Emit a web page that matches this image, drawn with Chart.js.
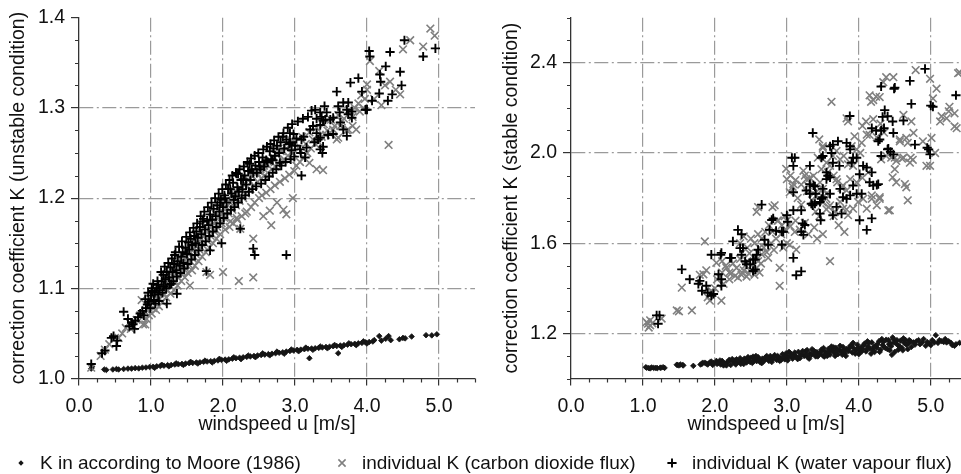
<!DOCTYPE html>
<html>
<head>
<meta charset="utf-8">
<script src="https://cdn.jsdelivr.net/npm/chart.js@4/dist/chart.umd.min.js"></script>
<style>
  html, body { margin: 0; padding: 0; background: #fff; }
  body { width: 961px; height: 474px; position: relative; overflow: hidden;
         font-family: 'Liberation Sans', Arial, sans-serif; color: #111; }
  #left { position: absolute; left: 0; top: 0; }
  #right { position: absolute; left: 480px; top: 0; }
  #legendMarks { position: absolute; left: 0; top: 440px; }
  .lg { position: absolute; top: 452px; font-size: 19px; line-height: 22px; white-space: nowrap; }
</style>
</head>
<body>
<canvas id="left" width="480" height="440"></canvas>
<canvas id="right" width="481" height="440"></canvas>
<canvas id="legendMarks" width="961" height="34"></canvas>
<div class="lg" style="left:40px">K in according to Moore (1986)</div>
<div class="lg" style="left:362px">individual K (carbon dioxide flux)</div>
<div class="lg" style="left:692px">individual K (water vapour flux)</div>
<script>
// tick labels
const xTicks = [0, 1, 2, 3, 4, 5];
const leftYTicks = [1.0, 1.1, 1.2, 1.3, 1.4];
const rightYTicks = [1.2, 1.6, 2.0, 2.4];

// left panel (unstable) : [windspeed, K]
const leftMoore = [
  [0.17,1.011],[0.18,1.013],[0.35,1.010],[0.38,1.0095],[0.47,1.010],[0.52,1.0105],[0.55,1.010],[0.62,1.0105],
  [0.68,1.011],[0.73,1.011],[0.78,1.0115],[0.83,1.0112],[0.88,1.012],[0.93,1.0122],[0.98,1.0128],[1.03,1.013],
  [1.08,1.0135],[1.13,1.0138],[1.18,1.0142],[1.23,1.0148],[1.28,1.015],[1.33,1.0155],[1.38,1.0158],[1.43,1.0162],
  [1.48,1.0165],[1.53,1.017],[1.58,1.0172],[1.63,1.0178],[1.68,1.018],[1.73,1.0185],[1.78,1.0188],[1.83,1.0192],
  [1.88,1.0195],[1.93,1.020],[1.98,1.0205],[2.03,1.021],[2.08,1.0212],[2.13,1.022],[2.18,1.0225],[2.23,1.023],
  [2.28,1.0235],[2.33,1.024],[2.38,1.0245],[2.43,1.025],[2.48,1.0255],[2.53,1.026],[2.58,1.0265],[2.63,1.027],
  [2.68,1.0275],[2.73,1.028],[2.78,1.0285],[2.83,1.029],[2.88,1.0298],[2.93,1.0305],[2.98,1.031],[3.03,1.0318],
  [3.08,1.032],[3.13,1.0325],[3.18,1.033],[3.2,1.0225],[3.23,1.0332],[3.28,1.0335],[3.33,1.034],[3.38,1.0345],
  [3.43,1.035],[3.48,1.0352],[3.53,1.0358],[3.58,1.036],[3.6,1.028],[3.63,1.0365],[3.68,1.037],[3.73,1.0375],
  [3.78,1.038],[3.83,1.0385],[3.88,1.039],[3.93,1.0395],[3.98,1.040],[4.03,1.0405],[4.08,1.041],[4.17,1.047],
  [4.2,1.042],[4.26,1.044],[4.3,1.047],[4.33,1.0425],[4.45,1.0435],[4.5,1.045],[4.53,1.0445],[4.62,1.0465],
  [4.82,1.048],[4.9,1.0478],[4.97,1.049],
  [1.05,1.0118],[1.25,1.0135],[1.45,1.015],[1.65,1.0166],[1.85,1.0178],[2.05,1.0196],[2.25,1.0215],[2.45,1.0236],
  [2.65,1.0257],[2.85,1.0275],[3.05,1.0302],[3.25,1.0318],[3.45,1.0335],[3.65,1.035],[3.85,1.037],[4.0,1.0388],
  [1.15,1.0152],[1.35,1.0168],[1.55,1.0185],[1.75,1.0198],[1.95,1.0218],[2.15,1.0235],[2.35,1.0255],[2.55,1.0278],
  [2.75,1.0298],[2.95,1.0322],[3.15,1.0342],[3.35,1.0355],[3.55,1.0372],[3.75,1.039],[3.95,1.0412],[4.1,1.0425]
];
const leftCO2 = [
  [0.17,1.012],[0.3,1.025],[0.36,1.032],[0.42,1.038],[0.5,1.045],[0.55,1.045],[0.6,1.05],[0.65,1.056],[0.7,1.062],
  [0.72,1.055],[0.76,1.058],[0.8,1.065],[0.85,1.07],[0.87,1.087],[0.88,1.068],[0.89,1.06],[0.92,1.06],[0.95,1.075],
  [0.98,1.08],[1.0,1.085],[1.03,1.078],[1.06,1.09],[1.08,1.082],[1.1,1.095],[1.12,1.088],[1.15,1.1],[1.18,1.094],
  [1.2,1.105],[1.23,1.098],[1.25,1.11],[1.28,1.102],[1.3,1.115],[1.33,1.108],[1.35,1.12],[1.38,1.112],[1.4,1.125],
  [1.43,1.118],[1.45,1.13],[1.48,1.122],[1.5,1.135],[1.52,1.127],[1.54,1.103],[1.55,1.14],[1.58,1.133],[1.6,1.145],
  [1.62,1.138],[1.65,1.15],[1.67,1.143],[1.7,1.155],[1.72,1.148],[1.75,1.16],[1.77,1.118],[1.78,1.153],[1.8,1.165],
  [1.82,1.115],[1.83,1.158],[1.85,1.17],[1.88,1.163],[1.9,1.175],[1.92,1.168],[1.95,1.18],[1.98,1.172],[1.98,1.202],
  [2.0,1.118],[2.0,1.185],[2.0,1.18],[2.02,1.178],[2.05,1.19],[2.08,1.183],[2.1,1.195],[2.1,1.174],[2.13,1.187],
  [2.15,1.2],[2.18,1.192],[2.19,1.178],[2.2,1.205],[2.22,1.108],[2.23,1.197],[2.24,1.166],[2.25,1.21],[2.28,1.2],
  [2.3,1.215],[2.31,1.183],[2.32,1.205],[2.35,1.22],[2.38,1.21],[2.4,1.225],[2.42,1.112],[2.42,1.155],[2.43,1.214],
  [2.45,1.228],[2.48,1.218],[2.5,1.23],[2.53,1.222],[2.55,1.235],[2.56,1.18],[2.58,1.225],[2.6,1.238],[2.62,1.228],
  [2.65,1.186],[2.65,1.242],[2.67,1.17],[2.68,1.232],[2.7,1.245],[2.73,1.235],[2.75,1.195],[2.75,1.25],[2.78,1.24],
  [2.8,1.252],[2.84,1.187],[2.85,1.243],[2.88,1.182],[2.88,1.255],[2.9,1.247],[2.93,1.258],[2.97,1.2],[2.97,1.25],
  [3.0,1.262],[3.05,1.255],[3.1,1.268],[3.15,1.26],[3.2,1.273],[3.2,1.239],[3.25,1.265],[3.3,1.232],[3.3,1.278],
  [3.35,1.27],[3.39,1.231],[3.4,1.282],[3.45,1.275],[3.5,1.287],[3.55,1.28],[3.58,1.265],[3.6,1.267],[3.6,1.292],
  [3.65,1.285],[3.72,1.275],[3.74,1.276],[3.75,1.298],[3.8,1.28],[3.8,1.29],[3.85,1.276],[3.88,1.305],[3.92,1.314],
  [3.95,1.3],[4.0,1.326],[4.0,1.32],[4.04,1.352],[4.1,1.31],[4.17,1.341],[4.2,1.303],[4.25,1.325],[4.3,1.259],
  [4.32,1.329],[4.4,1.32],[4.46,1.315],[4.5,1.365],[4.6,1.375],[4.78,1.368],[4.88,1.388],[4.94,1.38],
  [0.94,1.066],[0.97,1.07],[1.01,1.072],[1.04,1.092],[1.07,1.076],[1.09,1.1],[1.11,1.08],[1.14,1.105],[1.16,1.085],
  [1.19,1.112],[1.21,1.09],[1.24,1.118],[1.27,1.094],[1.29,1.123],[1.32,1.098],[1.34,1.128],[1.37,1.103],[1.39,1.133],
  [1.42,1.108],[1.44,1.138],[1.47,1.112],[1.49,1.143],[1.51,1.117],[1.53,1.148],[1.57,1.12],[1.59,1.153],[1.61,1.125],
  [1.64,1.158],[1.66,1.13],[1.69,1.163],[1.71,1.135],[1.74,1.168],[1.76,1.14],[1.79,1.172],[1.81,1.145],[1.84,1.178],
  [1.86,1.15],[1.89,1.183],[1.91,1.155],[1.94,1.188],[1.96,1.16],[1.99,1.193],[2.03,1.165],[2.06,1.198],[2.09,1.168],
  [2.12,1.203],[2.14,1.172],[2.17,1.208],[2.2,1.176],[2.23,1.212],[2.26,1.18],[2.29,1.216],[2.33,1.185],[2.36,1.22],
  [2.39,1.19],[2.41,1.224],[2.44,1.195],[2.47,1.228],[2.5,1.2],[2.52,1.232],[2.54,1.203],[2.57,1.236],[2.6,1.206],
  [2.63,1.24],[2.66,1.21],[2.69,1.244],[2.72,1.214],[2.76,1.248],[2.79,1.218],[2.82,1.252],[2.86,1.222],[2.89,1.26],
  [2.92,1.226],[2.95,1.264],[2.99,1.23],[3.02,1.236],[3.07,1.24],[3.12,1.245],[3.17,1.25],[3.22,1.255],[3.28,1.26],
  [3.33,1.262],[3.37,1.268],[3.43,1.27],[3.48,1.272],[3.53,1.276],[3.63,1.28],[3.68,1.288],[3.78,1.296],[3.83,1.3],
  [3.9,1.296],[3.97,1.31]
];
const leftWater = [
  [0.17,1.016],[0.32,1.028],[0.36,1.031],[0.45,1.045],[0.48,1.047],[0.52,1.036],[0.53,1.042],[0.62,1.074],
  [0.68,1.066],[0.7,1.058],[0.73,1.062],[0.75,1.06],[0.77,1.055],[0.78,1.064],[0.82,1.068],[0.85,1.072],
  [0.88,1.075],[0.9,1.07],[0.93,1.078],[0.95,1.082],[0.97,1.085],[1.01,1.1],[1.0,1.092],[1.02,1.097],[1.04,1.087],
  [1.05,1.095],[1.08,1.1],[1.1,1.093],[1.1,1.104],[1.12,1.098],[1.15,1.108],[1.17,1.115],[1.18,1.102],[1.2,1.11],
  [1.22,1.083],[1.22,1.118],[1.25,1.112],[1.27,1.123],[1.28,1.105],[1.3,1.118],[1.32,1.127],[1.33,1.137],[1.35,1.12],
  [1.36,1.094],[1.37,1.13],[1.4,1.125],[1.42,1.135],[1.44,1.14],[1.45,1.128],[1.48,1.145],[1.5,1.138],[1.52,1.151],
  [1.53,1.143],[1.55,1.155],[1.57,1.148],[1.6,1.158],[1.62,1.15],[1.63,1.163],[1.65,1.156],[1.68,1.168],[1.7,1.16],
  [1.72,1.174],[1.73,1.177],[1.75,1.165],[1.77,1.119],[1.78,1.175],[1.8,1.17],[1.82,1.142],[1.82,1.182],[1.85,1.176],
  [1.87,1.188],[1.9,1.18],[1.92,1.192],[1.95,1.185],[1.96,1.195],[1.97,1.198],[1.98,1.15],[2.0,1.19],[2.02,1.203],
  [2.03,1.2],[2.05,1.195],[2.07,1.21],[2.1,1.21],[2.12,1.205],[2.14,1.217],[2.15,1.198],[2.17,1.202],[2.19,1.227],
  [2.2,1.212],[2.21,1.227],[2.22,1.207],[2.24,1.166],[2.25,1.22],[2.27,1.21],[2.28,1.221],[2.3,1.225],[2.32,1.215],
  [2.35,1.23],[2.37,1.238],[2.38,1.22],[2.4,1.232],[2.42,1.144],[2.42,1.228],[2.44,1.137],[2.45,1.236],[2.47,1.228],
  [2.5,1.24],[2.51,1.235],[2.52,1.232],[2.55,1.245],[2.57,1.235],[2.6,1.242],[2.62,1.24],[2.65,1.252],[2.67,1.243],
  [2.69,1.242],[2.7,1.255],[2.72,1.247],[2.75,1.258],[2.78,1.25],[2.79,1.239],[2.8,1.262],[2.83,1.268],[2.85,1.255],
  [2.88,1.137],[2.88,1.265],[2.92,1.26],[2.93,1.272],[2.93,1.262],[2.95,1.253],[2.98,1.271],[3.0,1.258],[3.02,1.266],
  [3.07,1.254],[3.09,1.265],[3.09,1.225],[3.12,1.268],[3.14,1.245],[3.21,1.276],[3.23,1.297],[3.25,1.28],[3.3,1.272],
  [3.3,1.288],[3.35,1.295],[3.35,1.267],[3.35,1.254],[3.35,1.281],[3.37,1.29],[3.38,1.25],[3.39,1.257],[3.39,1.286],
  [3.42,1.287],[3.44,1.295],[3.49,1.287],[3.53,1.271],[3.53,1.289],[3.58,1.318],[3.6,1.302],[3.62,1.295],[3.63,1.284],
  [3.67,1.276],[3.67,1.306],[3.72,1.298],[3.72,1.269],[3.74,1.293],[3.74,1.306],[3.77,1.328],[3.79,1.289],[3.79,1.296],
  [3.88,1.333],[3.93,1.318],[3.98,1.298],[4.0,1.298],[4.03,1.363],[4.04,1.357],[4.07,1.308],[4.17,1.316],[4.18,1.337],
  [4.19,1.329],[4.26,1.346],[4.29,1.308],[4.32,1.362],[4.35,1.315],[4.46,1.34],[4.48,1.325],[4.52,1.375],[4.78,1.357],
  [4.95,1.366],
  [0.92,1.088],[0.96,1.095],[0.99,1.078],[1.03,1.105],[1.06,1.083],[1.09,1.108],[1.11,1.086],[1.14,1.118],[1.16,1.095],
  [1.19,1.124],[1.21,1.1],[1.24,1.128],[1.26,1.104],[1.29,1.133],[1.31,1.108],[1.34,1.14],[1.36,1.113],[1.39,1.146],
  [1.41,1.117],[1.43,1.152],[1.46,1.122],[1.49,1.157],[1.51,1.127],[1.54,1.162],[1.56,1.132],[1.59,1.167],[1.61,1.137],
  [1.64,1.172],[1.66,1.142],[1.69,1.18],[1.71,1.148],[1.74,1.185],[1.76,1.152],[1.79,1.19],[1.81,1.158],[1.84,1.195],
  [1.86,1.163],[1.89,1.2],[1.91,1.168],[1.94,1.205],[1.96,1.172],[1.99,1.21],[2.01,1.178],[2.04,1.215],[2.06,1.183],
  [2.09,1.22],[2.11,1.187],[2.13,1.225],[2.16,1.19],[2.18,1.228],[2.21,1.195],[2.23,1.232],[2.26,1.2],[2.29,1.235],
  [2.31,1.203],[2.34,1.24],[2.36,1.207],[2.39,1.244],[2.41,1.21],[2.44,1.247],[2.46,1.213],[2.49,1.25],[2.53,1.216],
  [2.56,1.254],[2.59,1.22],[2.61,1.257],[2.64,1.224],[2.66,1.26],[2.69,1.228],[2.71,1.264],[2.74,1.232],[2.77,1.268],
  [2.81,1.236],[2.84,1.272],[2.87,1.24],[2.9,1.278],[2.94,1.243],[2.96,1.282],[2.99,1.246],[3.04,1.285],[3.08,1.25],
  [3.11,1.288],[3.16,1.256],[3.18,1.29],[3.27,1.262],[3.28,1.298],[3.32,1.265],[3.41,1.302],[3.46,1.27]
];

// right panel (stable) : [windspeed, K]
const rightMoore = [
  [1.04,1.05],[1.05,1.048],[1.08,1.046],[1.1,1.045],[1.12,1.049],[1.15,1.047],[1.18,1.047],[1.2,1.046],[1.24,1.048],
  [1.25,1.048],[1.28,1.05],[1.3,1.047],[1.47,1.061],[1.48,1.06],[1.5,1.058],[1.52,1.062],[1.55,1.06],[1.56,1.058],
  [1.7,1.056],[1.8,1.062],[1.82,1.065],[1.83,1.07],[1.86,1.07],[1.88,1.066],[1.9,1.062],[1.93,1.072],[1.95,1.075],
  [1.97,1.06],[1.98,1.068],[2.02,1.078],[2.05,1.07],[2.08,1.062],[2.1,1.078],[2.12,1.058],[2.14,1.066],[2.17,1.072],
  [2.2,1.083],[2.22,1.06],[2.25,1.075],[2.27,1.08],[2.28,1.068],[2.3,1.085],[2.33,1.074],[2.36,1.065],[2.38,1.08],
  [2.4,1.064],[2.41,1.088],[2.44,1.071],[2.47,1.079],[2.5,1.092],[2.52,1.069],[2.53,1.097],[2.55,1.084],[2.58,1.077],
  [2.6,1.095],[2.63,1.072],[2.65,1.068],[2.66,1.088],[2.69,1.081],[2.72,1.1],[2.75,1.078],[2.77,1.1],[2.78,1.092],
  [2.8,1.085],[2.83,1.104],[2.86,1.082],[2.88,1.096],[2.9,1.078],[2.91,1.09],[2.94,1.108],[2.97,1.085],[3.0,1.1],
  [3.02,1.093],[3.03,1.118],[3.05,1.112],[3.08,1.088],[3.1,1.104],[3.13,1.097],[3.15,1.086],[3.16,1.118],[3.18,1.09],
  [3.21,1.108],[3.24,1.1],[3.26,1.12],[3.28,1.126],[3.29,1.094],[3.32,1.112],[3.34,1.104],[3.37,1.124],[3.4,1.098],
  [3.4,1.118],[3.42,1.116],[3.45,1.108],[3.48,1.128],[3.5,1.102],[3.52,1.097],[3.53,1.12],[3.55,1.112],[3.58,1.132],
  [3.6,1.106],[3.63,1.124],[3.65,1.138],[3.66,1.115],[3.68,1.136],[3.71,1.108],[3.73,1.127],[3.76,1.119],[3.77,1.105],
  [3.78,1.14],[3.81,1.112],[3.83,1.131],[3.86,1.122],[3.88,1.144],[3.9,1.148],[3.91,1.115],[3.93,1.134],[3.96,1.126],
  [3.98,1.15],[4.0,1.108],[4.01,1.118],[4.03,1.138],[4.05,1.13],[4.08,1.155],[4.1,1.12],[4.12,1.165],[4.13,1.142],
  [4.15,1.133],[4.18,1.16],[4.2,1.124],[4.22,1.118],[4.23,1.145],[4.25,1.137],[4.28,1.165],[4.3,1.127],[4.32,1.175],
  [4.33,1.148],[4.35,1.14],[4.38,1.172],[4.4,1.13],[4.42,1.152],[4.43,1.125],[4.45,1.143],[4.47,1.182],[4.48,1.175],
  [4.5,1.118],[4.52,1.155],[4.55,1.146],[4.55,1.128],[4.58,1.168],[4.6,1.135],[4.62,1.178],[4.63,1.158],[4.66,1.15],
  [4.68,1.13],[4.7,1.17],[4.73,1.14],[4.76,1.16],[4.8,1.165],[4.85,1.152],[4.9,1.175],[4.95,1.162],[4.98,1.155],
  [5.0,1.148],[5.02,1.17],[5.07,1.192],[5.1,1.158],[5.15,1.165],[5.2,1.175],[5.22,1.16],[5.25,1.165],[5.3,1.148],
  [5.35,1.152],[5.4,1.158],
  [2.03,1.065],[2.07,1.08],[2.11,1.07],[2.16,1.058],[2.19,1.077],[2.24,1.086],[2.29,1.062],[2.32,1.079],[2.35,1.09],
  [2.39,1.07],[2.43,1.083],[2.46,1.095],[2.49,1.073],[2.54,1.078],[2.57,1.1],[2.62,1.083],[2.67,1.075],[2.7,1.093],
  [2.74,1.088],[2.79,1.073],[2.82,1.095],[2.87,1.1],[2.92,1.082],[2.96,1.096],[2.99,1.112],[3.01,1.08],[3.06,1.1],
  [3.11,1.115],[3.14,1.092],[3.19,1.102],[3.22,1.122],[3.27,1.104],[3.31,1.088],[3.35,1.13],[3.38,1.11],[3.43,1.098],
  [3.47,1.118],[3.51,1.135],[3.56,1.1],[3.59,1.12],[3.62,1.142],[3.67,1.1],[3.7,1.125],[3.74,1.145],[3.79,1.124],
  [3.82,1.1],[3.87,1.135],[3.92,1.158],[3.95,1.11],[3.99,1.135],[4.04,1.12],[4.07,1.148],[4.11,1.13],[4.14,1.158],
  [4.17,1.11],[4.21,1.14],[4.26,1.152],[4.29,1.118],[4.34,1.162],[4.37,1.135],[4.41,1.17],[4.44,1.155],[4.46,1.105],
  [4.49,1.16],[4.53,1.17],[4.57,1.142],[4.61,1.125],[4.65,1.17],[4.69,1.155],[4.72,1.165],[4.78,1.15],[4.83,1.17],
  [4.88,1.16],[4.93,1.145],[5.05,1.16],[5.12,1.17],[5.18,1.162],[5.28,1.158],[5.33,1.145]
];
const rightCO2 = [
  [1.05,1.25],[1.07,1.243],[1.08,1.226],[1.1,1.258],[1.1,1.236],[1.13,1.245],[1.26,1.266],[1.47,1.302],[1.5,1.298],
  [1.54,1.403],[1.68,1.302],[1.79,1.46],[1.84,1.462],[1.86,1.608],[1.88,1.48],[1.9,1.36],[1.93,1.345],[1.95,1.39],
  [1.97,1.38],[2.0,1.4],[2.02,1.513],[2.03,1.44],[2.06,1.45],[2.09,1.345],[2.1,1.52],[2.1,1.47],[2.12,1.42],[2.15,1.5],
  [2.16,1.491],[2.2,1.47],[2.2,1.44],[2.22,1.465],[2.25,1.51],[2.28,1.455],[2.3,1.49],[2.32,1.447],[2.35,1.53],
  [2.35,1.6],[2.37,1.46],[2.38,1.47],[2.4,1.48],[2.4,1.63],[2.42,1.5],[2.44,1.452],[2.45,1.52],[2.45,1.58],[2.47,1.465],
  [2.48,1.555],[2.5,1.48],[2.5,1.62],[2.52,1.505],[2.55,1.46],[2.55,1.6],[2.58,1.49],[2.58,1.739],[2.6,1.52],[2.6,1.64],
  [2.6,1.76],[2.62,1.47],[2.62,1.58],[2.64,1.51],[2.65,1.55],[2.65,1.62],[2.68,1.58],[2.7,1.65],[2.72,1.56],[2.74,1.535],
  [2.75,1.68],[2.78,1.6],[2.8,1.651],[2.8,1.76],[2.82,1.57],[2.83,1.768],[2.85,1.62],[2.87,1.7],[2.88,1.7],[2.9,1.491],
  [2.9,1.411],[2.92,1.64],[2.93,1.68],[2.95,1.58],[2.97,1.72],[2.98,1.66],[2.99,1.93],[3.0,1.884],[3.0,1.6],[3.0,1.7],
  [3.04,1.593],[3.04,1.826],[3.05,1.675],[3.05,1.9],[3.08,1.85],[3.09,1.862],[3.11,1.65],[3.12,1.7],[3.12,1.88],
  [3.13,1.571],[3.15,1.8],[3.18,1.66],[3.2,1.77],[3.2,1.86],[3.23,1.921],[3.25,1.69],[3.25,1.9],[3.27,1.884],[3.28,1.83],
  [3.29,1.856],[3.3,1.64],[3.32,1.89],[3.35,1.79],[3.37,1.82],[3.37,1.899],[3.38,1.67],[3.4,1.74],[3.41,1.812],
  [3.42,1.62],[3.43,1.979],[3.45,1.72],[3.45,1.84],[3.45,2.06],[3.46,1.87],[3.48,1.928],[3.5,1.64],[3.5,1.78],
  [3.5,1.841],[3.5,2.023],[3.5,2.03],[3.55,1.75],[3.55,1.797],[3.55,1.82],[3.55,1.957],[3.57,1.914],[3.58,1.76],
  [3.6,1.52],[3.6,1.768],[3.6,1.943],[3.62,2.227],[3.64,1.987],[3.65,1.72],[3.65,1.9],[3.67,1.739],[3.69,1.884],
  [3.69,2.009],[3.7,1.87],[3.72,1.68],[3.74,1.783],[3.74,1.972],[3.76,1.845],[3.78,1.753],[3.78,1.856],[3.79,1.987],
  [3.8,1.65],[3.83,1.75],[3.83,1.834],[3.83,2.154],[3.85,1.724],[3.85,1.95],[3.85,2.14],[3.88,1.884],[3.88,1.957],
  [3.9,2.03],[3.92,1.753],[3.92,1.943],[3.94,2.074],[3.97,1.87],[3.97,2.016],[3.99,1.783],[4.02,2.0],[4.04,2.045],
  [4.05,1.89],[4.05,2.12],[4.06,1.797],[4.1,2.14],[4.11,1.753],[4.11,2.081],[4.13,1.914],[4.15,2.08],[4.15,2.256],
  [4.17,2.227],[4.18,1.797],[4.18,1.812],[4.2,2.15],[4.2,2.235],[4.24,2.25],[4.25,1.768],[4.25,2.07],[4.29,1.797],
  [4.29,1.804],[4.29,2.248],[4.3,2.13],[4.31,1.972],[4.34,2.314],[4.35,2.09],[4.38,1.987],[4.38,2.336],[4.41,1.746],
  [4.43,1.746],[4.45,1.979],[4.47,1.892],[4.48,2.336],[4.5,1.928],[4.5,1.979],[4.52,1.87],[4.52,1.965],[4.57,2.052],
  [4.57,2.06],[4.6,1.975],[4.62,1.979],[4.62,2.169],[4.64,1.862],[4.66,1.848],[4.66,2.067],[4.68,1.79],[4.68,2.045],
  [4.71,1.957],[4.72,1.979],[4.73,2.14],[4.75,1.97],[4.76,2.089],[4.79,2.368],[4.89,2.052],[4.94,1.943],[4.99,1.943],
  [4.99,2.329],[5.01,2.067],[5.03,2.242],[5.06,2.0],[5.08,2.285],[5.13,2.14],[5.15,2.163],[5.22,2.154],[5.25,2.185],
  [5.26,2.205],[5.33,2.118],[5.33,2.176],[5.36,2.11],[5.38,2.354],[5.4,2.358]
];
const rightWater = [
  [1.19,1.28],[1.21,1.243],[1.23,1.28],[1.54,1.484],[1.65,1.44],[1.77,1.42],[1.79,1.433],[1.82,1.389],[1.88,1.411],
  [1.9,1.38],[1.95,1.367],[1.95,1.549],[1.98,1.375],[2.05,1.462],[2.08,1.549],[2.09,1.44],[2.09,1.411],[2.09,1.557],
  [2.21,1.535],[2.23,1.535],[2.25,1.608],[2.32,1.659],[2.35,1.578],[2.37,1.549],[2.37,1.64],[2.39,1.578],[2.42,1.52],
  [2.44,1.506],[2.49,1.506],[2.53,1.477],[2.53,1.528],[2.56,1.484],[2.56,1.528],[2.58,1.549],[2.6,1.571],[2.65,1.771],
  [2.69,1.615],[2.74,1.593],[2.76,1.659],[2.79,1.703],[2.81,1.71],[2.85,1.655],[2.93,1.651],[2.93,1.593],[2.95,1.651],
  [3.0,1.724],[3.01,1.695],[3.07,1.979],[3.09,1.535],[3.09,1.746],[3.09,1.826],[3.09,1.943],[3.11,1.979],[3.13,1.458],
  [3.2,1.475],[3.2,1.651],[3.2,1.746],[3.22,1.688],[3.23,1.637],[3.25,1.681],[3.27,1.834],[3.32,1.819],[3.32,1.862],
  [3.32,1.943],[3.34,1.775],[3.36,1.768],[3.36,2.089],[3.37,1.856],[3.39,1.775],[3.39,1.852],[3.4,1.819],[3.46,1.731],
  [3.46,1.783],[3.47,1.702],[3.48,1.797],[3.48,1.979],[3.5,1.804],[3.5,1.841],[3.5,1.987],[3.55,1.884],[3.55,1.914],
  [3.57,1.899],[3.6,1.819],[3.6,1.892],[3.6,2.03],[3.62,2.0],[3.64,1.724],[3.64,1.957],[3.64,2.037],[3.69,1.761],
  [3.71,2.052],[3.73,1.943],[3.74,1.841],[3.76,1.731],[3.78,1.804],[3.83,1.797],[3.83,2.045],[3.875,2.164],[3.88,1.812],
  [3.88,2.016],[3.88,2.03],[3.9,1.957],[3.92,1.856],[3.92,1.979],[3.97,1.819],[3.97,1.979],[4.01,1.702],[4.01,1.906],
  [4.04,1.819],[4.06,1.943],[4.11,1.659],[4.11,1.936],[4.15,1.87],[4.18,1.71],[4.18,1.914],[4.18,2.11],[4.2,1.856],
  [4.24,2.1],[4.25,1.858],[4.27,1.862],[4.27,2.052],[4.29,2.06],[4.31,1.987],[4.31,2.1],[4.31,2.295],[4.33,2.16],
  [4.35,2.11],[4.36,2.19],[4.4,2.016],[4.4,2.163],[4.41,2.019],[4.44,2.005],[4.47,2.14],[4.48,1.994],[4.48,2.089],
  [4.49,2.285],[4.5,2.29],[4.62,2.144],[4.71,2.32],[4.73,2.218],[4.78,2.037],[4.92,2.373],[4.95,2.023],[4.97,2.016],
  [4.99,1.994],[5.0,2.21],[5.03,2.205],[5.35,2.256]
];

const FONT = "'Liberation Sans', Arial, sans-serif";
const TEXT = '#111';
const GRID = '#9a9a9a';
const AXIS = '#333';

Chart.defaults.font.family = FONT;
Chart.defaults.font.size = 19.5;
Chart.defaults.color = TEXT;

const toXY = arr => arr.map(([x, y]) => ({ x, y }));

// short unlabelled ticks between the major ones
const minorTicks = {
  id: 'minorTicks',
  afterDraw(chart, args, opts) {
    const { ctx, scales: { x, y } } = chart;
    ctx.save();
    ctx.strokeStyle = AXIS;
    ctx.lineWidth = 1.2;
    ctx.beginPath();
    for (let i = 0; ; i++) {
      const v = x.min + i * opts.x;
      if (v > x.max + 1e-9) break;
      if (xTicks.some(t => Math.abs(t - v) < 1e-6)) continue;
      const px = Math.round(x.getPixelForValue(v)) + 0.5;
      ctx.moveTo(px, y.bottom); ctx.lineTo(px, y.bottom + 4);
    }
    for (let i = 0; ; i++) {
      const v = y.min + i * opts.y;
      if (v > y.max + 1e-9) break;
      if (opts.yMajor.some(t => Math.abs(t - v) < 1e-6)) continue;
      const py = Math.round(y.getPixelForValue(v)) + 0.5;
      ctx.moveTo(x.left - 4, py); ctx.lineTo(x.left, py);
    }
    ctx.stroke();
    ctx.restore();
  }
};

function makeDatasets(water, co2, moore) {
  return [{
    label: 'individual K (water vapour flux)',
    data: toXY(water),
    pointStyle: 'cross', pointRadius: 4.6, borderColor: '#000', borderWidth: 1.9,
    showLine: false
  }, {
    label: 'individual K (carbon dioxide flux)',
    data: toXY(co2),
    pointStyle: 'crossRot', pointRadius: 5.4, borderColor: '#808080', borderWidth: 1.6,
    showLine: false
  }, {
    label: 'K in according to Moore (1986)',
    data: toXY(moore),
    pointStyle: 'rectRot', pointRadius: 2.8, backgroundColor: '#151515', borderColor: '#151515', borderWidth: 0.8,
    showLine: false
  }];
}

function xAxis(max) {
  return {
    type: 'linear', min: 0, max,
    afterBuildTicks: s => { s.ticks = xTicks.map(v => ({ value: v })); },
    afterFit: s => { s.height = 61.5; },
    ticks: { callback: v => v.toFixed(1), padding: 9, maxRotation: 0, autoSkip: false, color: TEXT },
    grid: {
      color: c => (c.tick && c.tick.value > 0) ? GRID : 'rgba(0,0,0,0)',
      lineWidth: 1.2, tickColor: AXIS, tickLength: 7, tickWidth: 1.2
    },
    border: { display: true, color: AXIS, width: 1.3, dash: [14, 3.5, 2, 3.5] },
    title: { display: true, text: 'windspeed u [m/s]', color: TEXT, padding: { top: 0, bottom: 4 } }
  };
}

function yAxis(min, max, ticks, title, width, titlePad, hideGrid) {
  return {
    type: 'linear', min, max,
    afterBuildTicks: s => { s.ticks = ticks.map(v => ({ value: v })); },
    afterFit: s => { s.width = width; },
    ticks: { callback: v => v.toFixed(1), padding: 6, autoSkip: false, color: TEXT },
    grid: {
      color: c => (c.tick && !hideGrid.some(h => Math.abs(h - c.tick.value) < 1e-6)) ? GRID : 'rgba(0,0,0,0)',
      lineWidth: 1.2, tickColor: AXIS, tickLength: 8, tickWidth: 1.2
    },
    border: { display: true, color: AXIS, width: 1.3, dash: [14, 3.5, 2, 3.5] },
    title: { display: true, text: title, color: TEXT, padding: { top: titlePad, bottom: 0 } }
  };
}

function makeChart(id, datasets, xMax, y, rightPad, minor) {
  return new Chart(document.getElementById(id), {
    type: 'scatter',
    data: { datasets },
    options: {
      responsive: false,
      animation: false,
      layout: { autoPadding: false, padding: { top: 13, right: rightPad, bottom: 0, left: 0 } },
      plugins: { legend: { display: false }, tooltip: { enabled: false }, minorTicks: minor },
      scales: { x: xAxis(xMax), y }
    },
    plugins: [minorTicks]
  });
}

makeChart('left', makeDatasets(leftWater, leftCO2, leftMoore), 5.5,
  yAxis(1.0, 1.4, leftYTicks, 'correction coefficient K (unstable condition)', 79, 7.3, [1.0, 1.4]),
  5, { x: 0.25, y: 0.025, yMajor: leftYTicks });

makeChart('right', makeDatasets(rightWater, rightCO2, rightMoore), 5.42,
  yAxis(1.0, 2.6, rightYTicks, 'correction coefficient K (stable condition)', 91, 20.3, []),
  0, { x: 0.25, y: 0.1, yMajor: rightYTicks });

// legend symbols
(function () {
  const ctx = document.getElementById('legendMarks').getContext('2d');
  const cy = 23;
  ctx.fillStyle = '#151515';
  ctx.beginPath();
  ctx.moveTo(21 - 2.7, cy); ctx.lineTo(21, cy - 2.7); ctx.lineTo(21 + 2.7, cy); ctx.lineTo(21, cy + 2.7);
  ctx.closePath(); ctx.fill();
  ctx.strokeStyle = '#808080'; ctx.lineWidth = 1.6;
  const d = 3.6;
  ctx.beginPath();
  ctx.moveTo(342 - d, cy - d); ctx.lineTo(342 + d, cy + d);
  ctx.moveTo(342 + d, cy - d); ctx.lineTo(342 - d, cy + d);
  ctx.stroke();
  ctx.strokeStyle = '#000'; ctx.lineWidth = 1.9;
  ctx.beginPath();
  ctx.moveTo(672 - 4.6, cy); ctx.lineTo(672 + 4.6, cy);
  ctx.moveTo(672, cy - 4.6); ctx.lineTo(672, cy + 4.6);
  ctx.stroke();
})();
</script>
</body>
</html>
